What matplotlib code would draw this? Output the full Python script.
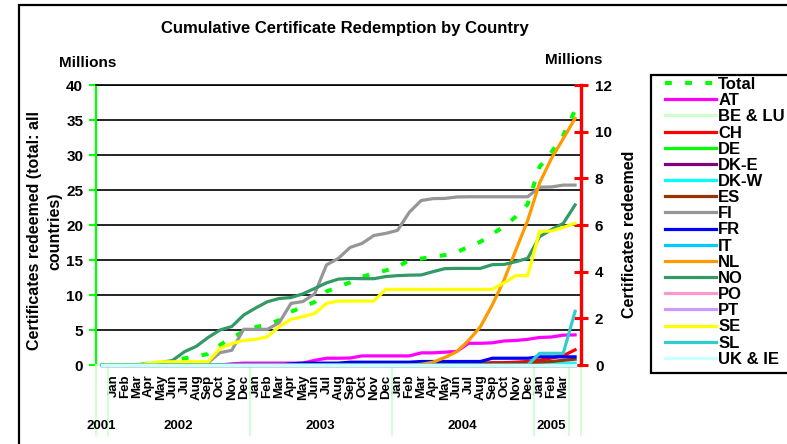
import matplotlib
matplotlib.use('Agg')
import matplotlib.pyplot as plt
from matplotlib.patches import Rectangle
from matplotlib.transforms import blended_transform_factory

plt.rcParams['font.family'] = ['Liberation Sans', 'DejaVu Sans']
plt.rcParams['font.weight'] = 'bold'

# ---------------- data ----------------
months = ['',
          'Jan', 'Feb', 'Mar', 'Apr', 'May', 'Jun', 'Jul', 'Aug', 'Sep', 'Oct', 'Nov', 'Dec',
          'Jan', 'Feb', 'Mar', 'Apr', 'May', 'Jun', 'Jul', 'Aug', 'Sep', 'Oct', 'Nov', 'Dec',
          'Jan', 'Feb', 'Mar', 'Apr', 'May', 'Jun', 'Jul', 'Aug', 'Sep', 'Oct', 'Nov', 'Dec',
          'Jan', 'Feb', 'Mar', '']
years = ['2001', '2002', '2003', '2004', '2005', '']
year_first = [0, 1, 13, 25, 37, 40]
year_last = [0, 12, 24, 36, 39, 40]

total = [0, 0, 0, 0.05, 0.2, 0.35, 0.55, 0.95, 1.2, 1.6, 2.86, 3.9, 4.8, 5.4, 5.8, 6.4, 7.6,
         8.3, 9.0, 10.5, 11.2, 11.8, 12.6, 13.1, 13.5, 14.0, 15.0, 15.2, 15.45, 15.7, 16.1,
         16.9, 17.6, 18.7, 19.8, 21.2, 23.0, 28.3, 30.4, 32.8, 36.4]

AT = [0, 0, 0, 0, 0, 0, 0, 0, 0, 0, 0, 0.05, 0.08, 0.08, 0.08, 0.08, 0.08, 0.08, 0.2, 0.29,
      0.29, 0.3, 0.39, 0.39, 0.39, 0.39, 0.39, 0.52, 0.52, 0.55, 0.58, 0.93, 0.93, 0.95, 1.03,
      1.05, 1.1, 1.18, 1.2, 1.28, 1.29]
BE_LU = [0, 0, 0, 0, 0, 0, 0, 0, 0, 0, 0, 0, 0, 0, 0, 0, 0, 0, 0, 0, 0, 0, 0, 0, 0, 0, 0, 0,
         0, 0, 0, 0, 0, 0, 0, 0, 0, 0, 0, 0, 0]
CH = [0, 0, 0, 0, 0, 0, 0, 0, 0, 0, 0, 0, 0, 0, 0, 0, 0.02, 0.03, 0.03, 0.03, 0.03, 0.03,
      0.03, 0.03, 0.04, 0.04, 0.04, 0.04, 0.04, 0.05, 0.05, 0.06, 0.08, 0.1, 0.1, 0.12, 0.15,
      0.2, 0.3, 0.4, 0.65]
DE = [0, 0, 0, 0, 0, 0, 0, 0, 0, 0, 0, 0, 0, 0, 0, 0, 0, 0, 0, 0, 0, 0, 0, 0, 0, 0, 0, 0,
      0, 0, 0, 0, 0, 0, 0, 0, 0, 0, 0, 0, 0]
DK_E = [0, 0, 0, 0, 0, 0, 0, 0, 0, 0, 0, 0, 0, 0, 0, 0, 0, 0, 0, 0, 0, 0, 0, 0, 0, 0, 0, 0,
        0, 0, 0, 0, 0, 0, 0, 0, 0, 0, 0, 0, 0]
DK_W = [0, 0, 0, 0, 0, 0, 0, 0, 0, 0, 0, 0, 0, 0, 0, 0, 0, 0, 0, 0, 0, 0, 0, 0, 0, 0, 0, 0,
        0, 0, 0, 0, 0, 0, 0, 0, 0.02, 0.04, 0.05, 0.06, 0.08]
ES = [0, 0, 0, 0, 0, 0, 0, 0, 0, 0, 0, 0, 0, 0, 0, 0, 0, 0, 0, 0, 0, 0, 0, 0, 0, 0, 0, 0,
      0, 0, 0.02, 0.05, 0.05, 0.05, 0.05, 0.05, 0.08, 0.12, 0.15, 0.2, 0.25]
FI = [0, 0, 0, 0, 0.05, 0.07, 0.07, 0.07, 0.07, 0.1, 0.53, 0.63, 1.53, 1.53, 1.53, 1.81, 2.64,
      2.72, 3.05, 4.29, 4.57, 5.04, 5.21, 5.55, 5.64, 5.77, 6.55, 7.05, 7.13, 7.14, 7.2, 7.21,
      7.21, 7.21, 7.21, 7.21, 7.21, 7.62, 7.63, 7.71, 7.71]
FR = [0, 0, 0, 0, 0, 0, 0, 0, 0, 0, 0, 0, 0, 0, 0, 0, 0.05, 0.08, 0.08, 0.08, 0.08, 0.12,
      0.12, 0.12, 0.12, 0.12, 0.12, 0.15, 0.15, 0.15, 0.15, 0.15, 0.15, 0.29, 0.29, 0.29, 0.29,
      0.35, 0.35, 0.35, 0.35]
IT = [0, 0, 0, 0, 0, 0, 0, 0, 0, 0, 0, 0, 0, 0, 0, 0, 0, 0, 0, 0, 0, 0, 0, 0, 0, 0, 0, 0,
      0, 0, 0, 0, 0, 0, 0, 0, 0, 0, 0, 0, 0]
NL = [0, 0, 0, 0, 0, 0, 0, 0, 0, 0, 0, 0, 0, 0, 0, 0, 0, 0, 0, 0, 0, 0, 0, 0, 0, 0, 0, 0.03,
      0.12, 0.32, 0.57, 1.05, 1.64, 2.57, 3.64, 4.93, 6.2, 7.8, 8.85, 9.7, 10.57]
NO = [0, 0, 0, 0.02, 0.05, 0.08, 0.2, 0.57, 0.8, 1.18, 1.5, 1.65, 2.14, 2.44, 2.71, 2.85,
      2.89, 3.05, 3.28, 3.52, 3.68, 3.71, 3.7, 3.7, 3.79, 3.83, 3.85, 3.86, 4.0, 4.13, 4.14,
      4.14, 4.14, 4.3, 4.31, 4.43, 4.57, 5.5, 5.8, 6.07, 6.86]
PO = [0, 0, 0, 0, 0, 0, 0, 0, 0, 0, 0, 0, 0, 0, 0, 0, 0, 0, 0, 0, 0, 0, 0, 0, 0, 0, 0, 0,
      0, 0, 0, 0, 0, 0, 0, 0, 0, 0, 0, 0, 0]
PT = [0, 0, 0, 0, 0, 0, 0, 0, 0, 0, 0, 0, 0, 0, 0, 0, 0, 0, 0, 0, 0, 0, 0, 0, 0, 0, 0, 0,
      0, 0, 0, 0, 0, 0, 0, 0, 0, 0, 0, 0, 0]
SE = [0, 0, 0, 0, 0.07, 0.14, 0.14, 0.14, 0.14, 0.14, 0.71, 0.92, 1.05, 1.1, 1.21, 1.64,
      1.96, 2.07, 2.21, 2.64, 2.74, 2.74, 2.74, 2.74, 3.24, 3.24, 3.24, 3.24, 3.24, 3.24, 3.24,
      3.24, 3.24, 3.24, 3.52, 3.83, 3.83, 5.73, 5.74, 5.9, 6.07]
SL = [0, 0, 0, 0, 0, 0, 0, 0, 0, 0, 0, 0, 0, 0, 0, 0, 0, 0, 0, 0, 0, 0, 0, 0, 0, 0, 0, 0,
      0, 0, 0, 0, 0, 0, 0, 0, 0, 0.5, 0.5, 0.5, 2.3]
UK_IE = [0, 0, 0, 0, 0, 0, 0, 0, 0, 0, 0, 0, 0, 0, 0, 0, 0, 0, 0, 0, 0, 0, 0, 0, 0, 0, 0, 0,
         0, 0, 0, 0, 0, 0, 0, 0, 0, 0, 0, 0, 0]

country_names = ['AT', 'BE & LU', 'CH', 'DE', 'DK-E', 'DK-W', 'ES', 'FI', 'FR', 'IT',
                 'NL', 'NO', 'PO', 'PT', 'SE', 'SL', 'UK & IE']
country_values = [AT, BE_LU, CH, DE, DK_E, DK_W, ES, FI, FR, IT, NL, NO, PO, PT, SE, SL, UK_IE]
country_colors = ['#FF00FF', '#CCFFCC', '#FF0000', '#00FF00', '#800080', '#00FFFF',
                  '#993300', '#969696', '#0000FF', '#00CCFF', '#FF9900', '#339966',
                  '#FF99CC', '#CC99FF', '#FFFF00', '#33CCCC', '#CCFFFF']

# ---------------- figure ----------------
W, H = 787, 444
fig = plt.figure(figsize=(W / 100, H / 100), dpi=100)

def fx(px):
    return px / W

def fy(py):
    return 1 - py / H

# outer chart border
fig.add_artist(Rectangle((fx(19), -0.5), 2.0, fy(5) + 0.5, transform=fig.transFigure,
                         fill=False, edgecolor='black', linewidth=1.6, zorder=0))

ax_l, ax_r, ax_t, ax_b = 95.7, 581.0, 85, 365
ax = fig.add_axes([fx(ax_l), fy(ax_b), (ax_r - ax_l) / W, (ax_b - ax_t) / H])
x = list(range(len(months)))

# primary axis: Total
ln_total, = ax.plot(x, total, color='#00FF00', lw=2.9, dashes=(1.7, 3.3),
                    dash_capstyle='butt', zorder=3, label='Total')
ax.set_xlim(-0.5, len(months) - 0.5)
ax.set_ylim(0, 40)
ax.set_yticks(range(0, 41, 5))
ax.yaxis.grid(True, color='black', linewidth=1.2)
ax.set_axisbelow(True)
ax.set_xticks(x)
ax.set_xticklabels(months, rotation=90, fontsize=9.5, fontweight='bold')
ax.tick_params(axis='x', length=0, pad=7)
ax.tick_params(axis='y', colors='black', labelsize=11, length=5, width=1.5,
               direction='out', color='#00FF00', pad=4)
for lab in ax.get_yticklabels():
    lab.set_fontweight('bold')
ax.spines['left'].set_color('#00FF00')
ax.spines['left'].set_linewidth(1.6)
ax.spines['bottom'].set_color('#CCFFCC')
ax.spines['bottom'].set_linewidth(1.5)
ax.spines['top'].set_color('black')
ax.spines['top'].set_linewidth(1.2)
ax.spines['right'].set_visible(False)

# secondary axis: countries
ax2 = ax.twinx()
handles = [ln_total]
for name, vals, col in zip(country_names, country_values, country_colors):
    ln, = ax2.plot(x, vals, color=col, lw=2.3, solid_joinstyle='round', label=name,
                   clip_on=False)
    handles.append(ln)
ax2.set_ylim(0, 12)
ax2.set_yticks(range(0, 13, 2))
ax2.tick_params(axis='y', colors='black', labelsize=11, length=10, width=2.2,
                direction='inout', color='#FF0000', pad=5)
for lab in ax2.get_yticklabels():
    lab.set_fontweight('bold')
ax2.spines['right'].set_color('#FF0000')
ax2.spines['right'].set_linewidth(2.4)
ax2.spines['left'].set_visible(False)
ax2.spines['top'].set_visible(False)
ax2.spines['bottom'].set_visible(False)

# multi-level category axis: year groups and separators
trans = blended_transform_factory(ax.transData, ax.transAxes)
sep_bottom = (ax_b - 435) / (ax_b - ax_t)
year_y = (ax_b - 426) / (ax_b - ax_t)
seps = sorted(set([f - 0.5 for f in year_first] + [l + 0.5 for l in year_last]))
for s in seps:
    ax.plot([s, s], [0, sep_bottom], transform=trans, color='#CCFFCC', lw=1.3,
            clip_on=False, zorder=1)
for yr, f, l in zip(years, year_first, year_last):
    ax.text((f + l) / 2, year_y, yr, transform=trans, ha='center', va='center',
            fontsize=9.5, fontweight='bold')

# texts
fig.text(fx(345), fy(28), 'Cumulative Certificate Redemption by Country', ha='center',
         va='center', fontsize=12, fontweight='bold')
fig.text(fx(88), fy(63), 'Millions', ha='center', va='center', fontsize=11, fontweight='bold')
fig.text(fx(574), fy(60), 'Millions', ha='center', va='center', fontsize=11, fontweight='bold')
fig.text(fx(45), fy(231), 'Certificates redeemed (total: all\ncountries)', rotation=90,
         ha='center', va='center', multialignment='center', linespacing=1.45,
         fontsize=11.5, fontweight='bold')
fig.text(fx(629), fy(234), 'Certificates redeemed', rotation=90, ha='center', va='center',
         fontsize=11.5, fontweight='bold')

# legend
fig.add_artist(Rectangle((fx(651), fy(373)), 0.5, (373 - 75) / H, transform=fig.transFigure,
                         facecolor='white', edgecolor='black', linewidth=1.6, zorder=1))
leg = fig.legend(handles, ['Total'] + country_names, loc='upper left',
                 bbox_to_anchor=(fx(665), fy(77)), bbox_transform=fig.transFigure,
                 frameon=False, fontsize=12, handlelength=3.05, handletextpad=0.15,
                 labelspacing=0.07, borderpad=0, borderaxespad=0)
leg.set_zorder(5)
for t in leg.get_texts():
    t.set_fontweight('bold')

fig.savefig('out.png', dpi=100)
